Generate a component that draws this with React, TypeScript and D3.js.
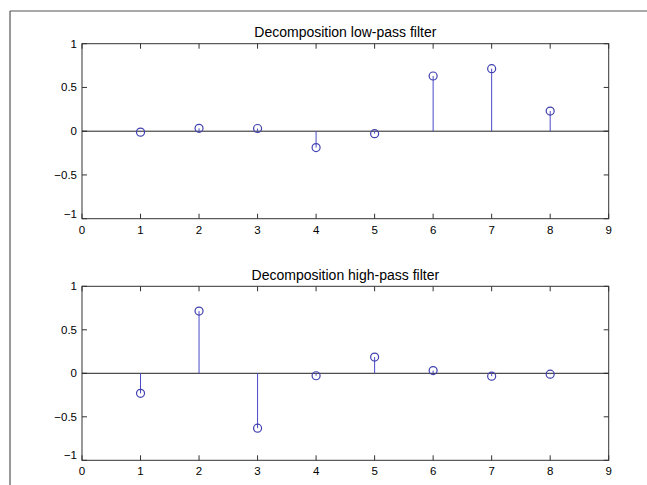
import React from "react";
import * as d3 from "d3";

const samples = [1, 2, 3, 4, 5, 6, 7, 8];
const lowPass = [-0.0106, 0.0329, 0.0308, -0.187, -0.028, 0.6309, 0.7148, 0.2304];
const highPass = [-0.2304, 0.7148, -0.6309, -0.028, 0.187, 0.0308, -0.0329, -0.0106];
const xTicks = [0, 1, 2, 3, 4, 5, 6, 7, 8, 9];
const yTicks = [-1, -0.5, 0, 0.5, 1];
const titles = ["Decomposition low-pass filter", "Decomposition high-pass filter"];

const W = 647;
const H = 485;
const left = 82;
const right = 608.7;
const panels = [
  { top: 43.7, bottom: 218.7, values: lowPass, title: titles[0] },
  { top: 286.3, bottom: 460.3, values: highPass, title: titles[1] },
];

const fmt = (v: number) => (v === 0 ? "0" : (v < 0 ? "\u2212" : "") + String(Math.abs(v)));

function Panel({ top, bottom, values, title }: { top: number; bottom: number; values: number[]; title: string }) {
  const x = d3.scaleLinear().domain([0, 9]).range([left, right]);
  const y = d3.scaleLinear().domain([-1, 1]).range([bottom, top]);
  const tl = 5;
  const font = "Liberation Sans, Arial, sans-serif";
  return (
    <g>
      <text x={(left + right) / 2} y={top - 6.5} textAnchor="middle" fontSize={14} fontFamily={font} fill="#000">
        {title}
      </text>
      <rect x={left} y={top} width={right - left} height={bottom - top} fill="#fff" stroke="#333" strokeWidth={1} />
      {xTicks.map((t) => (
        <g key={"x" + t}>
          <line x1={x(t)} x2={x(t)} y1={bottom} y2={bottom - tl} stroke="#333" />
          <line x1={x(t)} x2={x(t)} y1={top} y2={top + tl} stroke="#333" />
          <text x={x(t)} y={bottom + 15} textAnchor="middle" fontSize={11.5} fontFamily={font} fill="#000">
            {String(t)}
          </text>
        </g>
      ))}
      {yTicks.map((t) => (
        <g key={"y" + t}>
          <line x1={left} x2={left + tl} y1={y(t)} y2={y(t)} stroke="#333" />
          <line x1={right} x2={right - tl} y1={y(t)} y2={y(t)} stroke="#333" />
          <text
            x={left - 5}
            y={y(t) + (t === -1 ? -1 : 4)}
            textAnchor="end"
            fontSize={11.5}
            fontFamily={font}
            fill="#000"
          >
            {fmt(t)}
          </text>
        </g>
      ))}
      <line x1={left} x2={right} y1={y(0)} y2={y(0)} stroke="#222" strokeWidth={1} />
      {values.map((v, i) => (
        <g key={"s" + i}>
          <line x1={x(samples[i])} x2={x(samples[i])} y1={y(0)} y2={y(v)} stroke="#4a4ac8" strokeWidth={1} />
          <circle cx={x(samples[i])} cy={y(v)} r={4} fill="none" stroke="#4040b0" strokeWidth={1.2} />
        </g>
      ))}
    </g>
  );
}

export default function App() {
  return (
    <svg width={W} height={H} style={{ position: "absolute", left: 0, top: 0, background: "#fff" }}>
      <rect x={0} y={0} width={W} height={H} fill="#fff" />
      <line x1={10} x2={W} y1={11} y2={11} stroke="#555" strokeWidth={1.2} />
      <line x1={10} x2={10} y1={11} y2={H} stroke="#555" strokeWidth={1.2} />
      {panels.map((p, i) => (
        <Panel key={i} {...p} />
      ))}
    </svg>
  );
}
